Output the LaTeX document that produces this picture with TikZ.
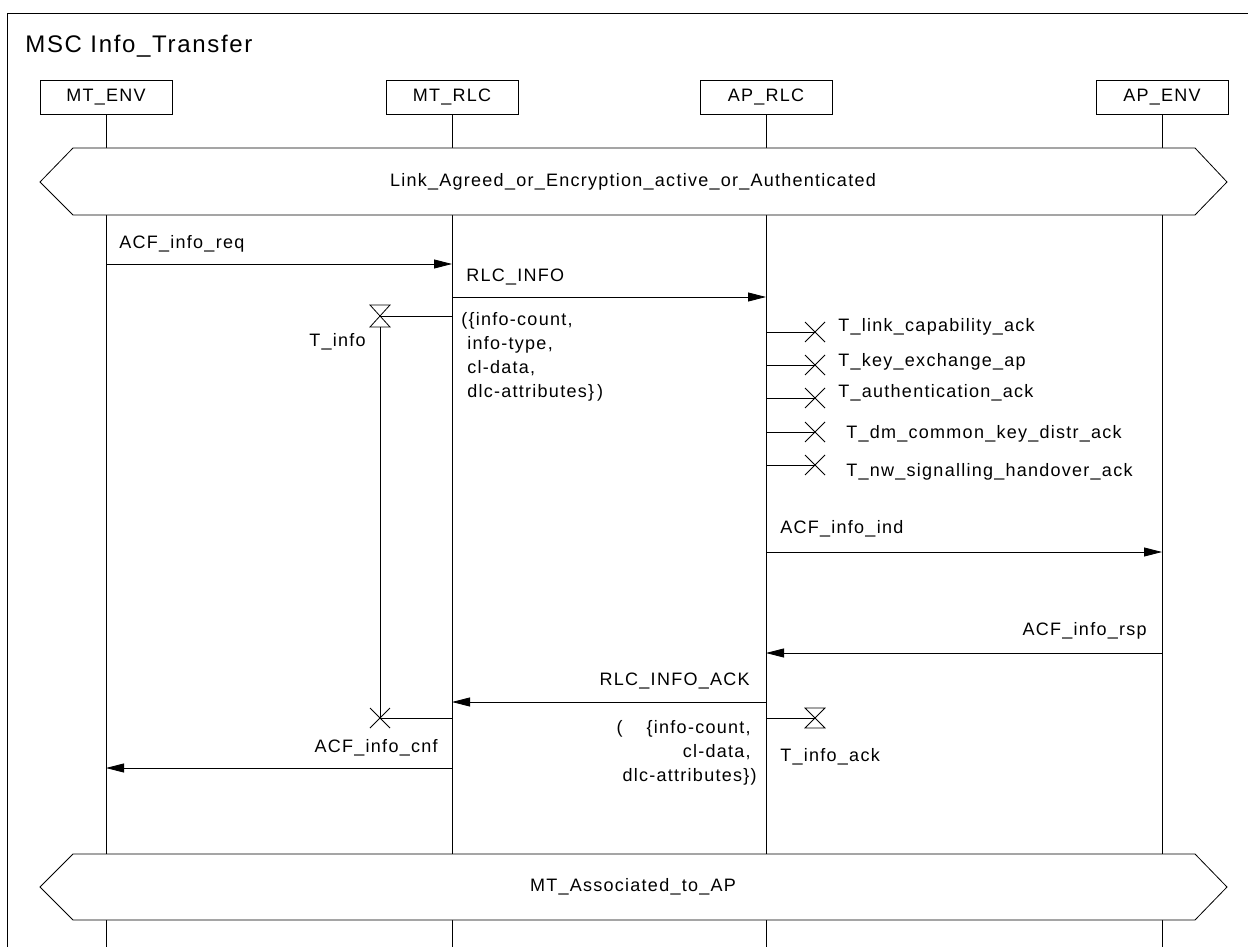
\documentclass[tikz,border=0pt]{standalone}
\usepackage{fontspec}
\setmainfont{Liberation Sans}[LetterSpace=7]
\usetikzlibrary{calc}
\usetikzlibrary{arrows.meta}

\tikzset{
  txt/.style={inner sep=0pt, font=\fontsize{18}{24}\selectfont},
  inst/.style={txt, draw, minimum width=132pt, minimum height=34pt},
  msg/.style={-{Triangle[length=18pt,width=9pt]}},
  cond/.style={draw, fill=white},
}

\begin{document}
\begin{tikzpicture}[x=1pt, y=-1pt, line width=0.8pt]
\useasboundingbox (0,0) rectangle (1248,947);
\draw (7,947) -- (7,13) -- (1248,13);
\node (title) at (25,46) [txt, anchor=west, font=\fontsize{24}{28}\selectfont] {MSC Info\_Transfer};

\node (mtenv) at (106,97) [inst] {MT\_ENV};
\node (mtrlc) at (452,97) [inst] {MT\_RLC};
\node (aprlc) at (766,97) [inst] {AP\_RLC};
\node (apenv) at (1162,97) [inst] {AP\_ENV};
\draw (mtenv.south) -- (mtenv |- 0,947);
\draw (mtrlc.south) -- (mtrlc |- 0,947);
\draw (aprlc.south) -- (aprlc |- 0,947);
\draw (apenv.south) -- (apenv |- 0,947);

\node (linkcond) at (633,182) [txt] {};
\draw [cond] ($(linkcond)+(-593,0)$) -- ($(linkcond)+(-560,-34)$) -- ($(linkcond)+(562,-34)$) -- ($(linkcond)+(594,0)$) -- ($(linkcond)+(562,33)$) -- ($(linkcond)+(-560,33)$) -- cycle;
\node at (linkcond) [txt] {Link\_Agreed\_or\_Encryption\_active\_or\_Authenticated};

\node (reqlbl) at (119,244) [txt, anchor=west] {ACF\_info\_req};
\draw [msg] (mtenv |- 0,264) -- (mtrlc |- 0,264);
\node (infolbl) at (466,277) [txt, anchor=west] {RLC\_INFO};
\draw [msg] (mtrlc |- 0,297) -- (aprlc |- 0,297);
\node (infopar) at (461,312) [txt, anchor=north west, align=left] {(\{info-count,\\\hphantom{(}info-type,\\\hphantom{(}cl-data,\\\hphantom{(}dlc-attributes\}\,)};

\coordinate (tinfo) at (380,316);
\draw (mtrlc |- tinfo) -- (tinfo);
\draw ($(tinfo)+(-10,-11)$) -- ($(tinfo)+(10,-11)$) -- ($(tinfo)+(-10,11)$) -- ($(tinfo)+(10,11)$) -- cycle;
\node (tinfolbl) at (366,342) [txt, anchor=east] {T\_info};
\coordinate (tinfostop) at (380,718);
\draw ($(tinfo)+(0,11)$) -- (tinfostop);
\draw (mtrlc |- tinfostop) -- (tinfostop);
\draw ($(tinfostop)+(-10,-10)$) -- ($(tinfostop)+(10,10)$);
\draw ($(tinfostop)+(-10,10)$) -- ($(tinfostop)+(10,-10)$);

\foreach \ty/\ly/\lx/\name in {332/327/838/T\_link\_capability\_ack, 365/362/838/T\_key\_exchange\_ap, 398/393/838/T\_authentication\_ack, 432/434/846/T\_dm\_common\_key\_distr\_ack, 465/472/846/T\_nw\_signalling\_handover\_ack}{
  \coordinate (tx) at (815,\ty);
  \draw (aprlc |- tx) -- (tx);
  \draw ($(tx)+(-10,-10)$) -- ($(tx)+(10,10)$);
  \draw ($(tx)+(-10,10)$) -- ($(tx)+(10,-10)$);
  \node at (\lx,\ly) [txt, anchor=west] {\name};
}

\node (indlbl) at (780,529) [txt, anchor=west] {ACF\_info\_ind};
\draw [msg] (aprlc |- 0,552) -- (apenv |- 0,552);
\node (rsplbl) at (1147,631) [txt, anchor=east] {ACF\_info\_rsp};
\draw [msg] (apenv |- 0,653) -- (aprlc |- 0,653);
\node (acklbl) at (750,681) [txt, anchor=east] {RLC\_INFO\_ACK};
\draw [msg] (aprlc |- 0,702) -- (mtrlc |- 0,702);
\node (ackpar) at (757,720) [txt, anchor=north east, align=right] {(\hspace{24pt}\{info-count,\hphantom{)}\\cl-data,\hphantom{)}\\dlc-attributes\})};

\coordinate (tack) at (815,718);
\draw (aprlc |- tack) -- (tack);
\draw ($(tack)+(-10,-10)$) -- ($(tack)+(10,-10)$) -- ($(tack)+(-10,10)$) -- ($(tack)+(10,10)$) -- cycle;
\node (tacklbl) at (780,757) [txt, anchor=west] {T\_info\_ack};

\node (cnflbl) at (438,748) [txt, anchor=east] {ACF\_info\_cnf};
\draw [msg] (mtrlc |- 0,768) -- (mtenv |- 0,768);

\node (assoccond) at (633,887) [txt] {};
\draw [cond] ($(assoccond)+(-593,0)$) -- ($(assoccond)+(-560,-33)$) -- ($(assoccond)+(562,-33)$) -- ($(assoccond)+(594,0)$) -- ($(assoccond)+(562,33)$) -- ($(assoccond)+(-560,33)$) -- cycle;
\node at (assoccond) [txt] {MT\_Associated\_to\_AP};
\end{tikzpicture}
\end{document}
